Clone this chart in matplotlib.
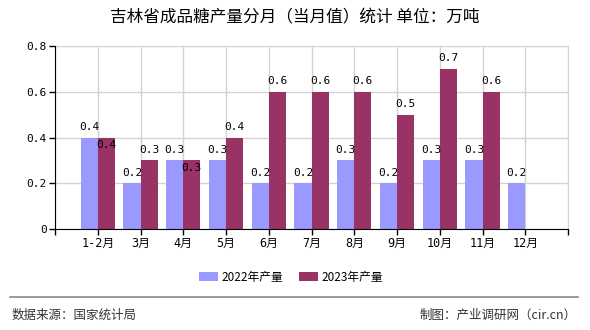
import matplotlib.pyplot as plt
import numpy as np

plt.rcParams['font.family'] = ['Noto Sans CJK SC', 'DejaVu Sans']

# 吉林省成品糖产量 (万吨)
months = ['1-2月', '3月', '4月', '5月', '6月', '7月', '8月', '9月', '10月', '11月', '12月']
prod_2022 = [0.4, 0.2, 0.3, 0.3, 0.2, 0.2, 0.3, 0.2, 0.3, 0.3, 0.2]
prod_2023 = [0.4, 0.3, 0.3, 0.4, 0.6, 0.6, 0.6, 0.5, 0.7, 0.6, np.nan]
yticks = [0, 0.2, 0.4, 0.6, 0.8]
ytick_labels = ['0', '0.2', '0.4', '0.6', '0.8']

c22 = '#9999ff'
c23 = '#993366'
mono = ['DejaVu Sans Mono', 'Noto Sans CJK SC']

fig = plt.figure(figsize=(5.9, 3.3), dpi=100)
ax = fig.add_axes([55 / 590, 1 - 229 / 330, 513 / 590, 183 / 330])

x = np.arange(len(months))
w = 0.4
b1 = ax.bar(x - w / 2, prod_2022, w, color=c22, label='2022年产量', zorder=2)
b2 = ax.bar(x + w / 2, prod_2023, w, color=c23, label='2023年产量', zorder=2)

# value labels (a few of the 2023 ones sit inside the bar top, as in the original)
inside = {0, 2}
for i, v in enumerate(prod_2022):
    ax.annotate(f'{v:.1f}', (x[i] - w / 2, v), xytext=(0, 4), textcoords='offset points',
                ha='center', va='bottom', fontsize=8, family=mono, zorder=3)
for i, v in enumerate(prod_2023):
    if np.isnan(v):
        continue
    if i in inside:
        ax.annotate(f'{v:.1f}', (x[i] + w / 2, v), xytext=(0, -2), textcoords='offset points',
                    ha='center', va='top', fontsize=8, family=mono, zorder=3)
    else:
        ax.annotate(f'{v:.1f}', (x[i] + w / 2, v), xytext=(0, 4), textcoords='offset points',
                    ha='center', va='bottom', fontsize=8, family=mono, zorder=3)

ax.set_xlim(-1, len(months))
ax.set_ylim(0, 0.8)
ax.set_xticks(np.arange(-1, len(months) + 1))
ax.set_xticklabels([''] + months + [''], fontsize=8.5, family=mono)
ax.set_yticks(yticks)
ax.set_yticklabels(ytick_labels, fontsize=8, family=mono)
ax.tick_params(axis='both', length=4, width=1, color='black', pad=2)
ax.grid(True, color='#d3d3d3', linewidth=1, zorder=0)
for s in ['top', 'right']:
    ax.spines[s].set_color('#d3d3d3')
for s in ['left', 'bottom']:
    ax.spines[s].set_color('black')
    ax.spines[s].set_zorder(4)

fig.text(295 / 590, 1 - 18 / 330, '吉林省成品糖产量分月（当月值）统计 单位：万吨',
         ha='center', va='center', fontsize=12, weight='medium')

fig.legend(handles=[b1, b2], loc='center', bbox_to_anchor=(291 / 590, 1 - 277 / 330),
           ncol=2, frameon=False, fontsize=8.5, handlelength=1.6, handleheight=0.7,
           handletextpad=0.3, columnspacing=1.3)

fig.add_artist(plt.Line2D([10 / 590, 578 / 590], [1 - 297 / 330] * 2, color='#888888', linewidth=1.2))
fig.text(12 / 590, 1 - 315 / 330, '数据来源：国家统计局', ha='left', va='center', fontsize=9, color='#333333')
fig.text(577 / 590, 1 - 315 / 330, '制图：产业调研网（cir.cn）', ha='right', va='center', fontsize=9, color='#333333')

fig.savefig('out.png', dpi=100)
